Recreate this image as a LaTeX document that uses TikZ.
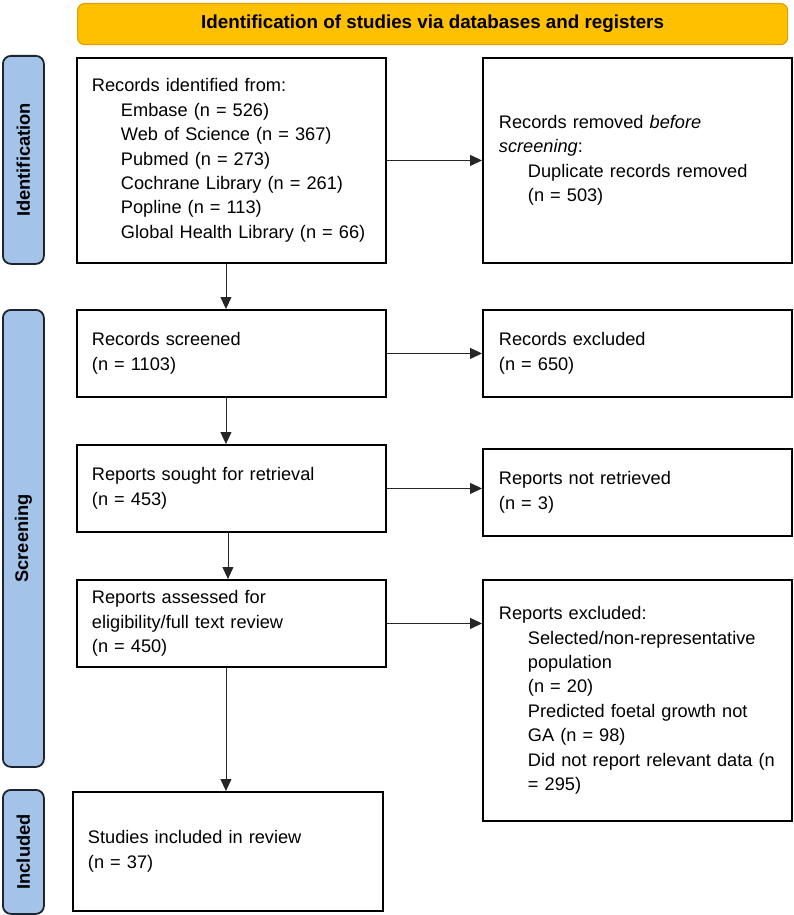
\documentclass[tikz,border=0pt]{standalone}
\usepackage{fontspec}
\setmainfont{Liberation Sans}
\usetikzlibrary{arrows.meta}
\definecolor{hdrfill}{HTML}{FFC000}
\definecolor{hdrdraw}{HTML}{D9A400}
\definecolor{lblfill}{HTML}{A4C3E8}
\definecolor{lbldraw}{HTML}{1C2430}
\tikzset{
  bx/.style={draw=black, line width=1.9pt, anchor=north west, align=left,
    inner xsep=15pt, inner ysep=0pt, font=\fontsize{18.2}{24.4}\selectfont},
  lbl/.style={draw=lbldraw, fill=lblfill, line width=1.8pt, rounded corners=8pt,
    anchor=north west, minimum width=41pt, inner sep=0pt},
  lbltext/.style={rotate=90, font=\bfseries\fontsize{18.3}{22}\selectfont},
  arr/.style={draw=black!85, line width=0.9pt, -{Triangle[length=12pt,width=11pt]}},
}
\newcommand{\ind}{\hspace*{29pt}}
\begin{document}
\begin{tikzpicture}[x=1pt,y=-1pt]
\useasboundingbox (0,0) rectangle (793,915);
% header
\node[draw=hdrdraw, fill=hdrfill, line width=1.2pt, rounded corners=7pt, anchor=north west,
  minimum width=710pt, minimum height=41pt, inner sep=0pt,
  font=\bfseries\fontsize{18.8}{22}\selectfont] (hdr) at (77,3)
  {Identification of studies via databases and registers};
% phase labels
\node[lbl, minimum height=208pt] (lid) at (2,55) {};
\node[lbltext] (tid) at (lid.center) {Identification};
\node[lbl, minimum height=457pt] (lsc) at (2,309) {};
\node[lbltext] (tsc) at (lsc.center) {Screening};
\node[lbl, minimum height=124pt] (lin) at (2,789) {};
\node[lbltext] (tin) at (lin.center) {Included};
% left column
\node[bx, text width=279pt, minimum height=205pt] (b1) at (76,57)
  {Records identified from:\\
   \ind Embase (n = 526)\\
   \ind Web of Science (n = 367)\\
   \ind Pubmed (n = 273)\\
   \ind Cochrane Library (n = 261)\\
   \ind Popline (n = 113)\\
   \ind Global Health Library (n = 66)};
\node[bx, text width=279pt, minimum height=87pt] (b2) at (76,309)
  {Records screened\\(n = 1103)};
\node[bx, text width=279pt, minimum height=87pt] (b3) at (76,444)
  {Reports sought for retrieval\\(n = 453)};
\node[bx, text width=279pt, minimum height=87pt] (b4) at (76,579)
  {Reports assessed for\\eligibility/full text review\\(n = 450)};
\node[bx, text width=280pt, minimum height=119pt] (b5) at (72,791)
  {Studies included in review\\(n = 37)};
% right column
\node[bx, text width=277pt, inner xsep=16pt, minimum height=205pt] (r1) at (482,57)
  {Records removed \textit{before}\\
   \textit{screening}:\\
   \ind Duplicate records removed\\
   \ind (n = 503)};
\node[bx, text width=277pt, inner xsep=16pt, minimum height=87pt] (r2) at (482,309)
  {Records excluded\\(n = 650)};
\node[bx, text width=277pt, inner xsep=16pt, minimum height=87pt] (r3) at (482,448)
  {Reports not retrieved\\(n = 3)};
\node[bx, text width=277pt, inner xsep=16pt, minimum height=241pt] (r4) at (482,579)
  {Reports excluded:\\
   \ind Selected/non-representative\\
   \ind population\\
   \ind (n = 20)\\
   \ind Predicted foetal growth not\\
   \ind GA (n = 98)\\
   \ind \mbox{Did not report relevant data (n}\\
   \ind = 295)};
% connectors
\draw[arr] (b1.east) -- (r1.west);
\draw[arr] (b2.east) -- (r2.west);
\draw[arr] (b3.east) -- (b3.east -| r3.west);
\draw[arr] (b4.east) -- (b4.east -| r4.west);
\draw[arr] ([xshift=-5.5pt]b1.south) -- ([xshift=-5.5pt]b2.north);
\draw[arr] ([xshift=-5.5pt]b2.south) -- ([xshift=-5.5pt]b3.north);
\draw[arr] ([xshift=-3.5pt]b3.south) -- ([xshift=-3.5pt]b4.north);
\draw[arr] ([xshift=-5.5pt]b4.south) -- ([xshift=-5.5pt]b4.south |- b5.north);
\end{tikzpicture}
\end{document}
